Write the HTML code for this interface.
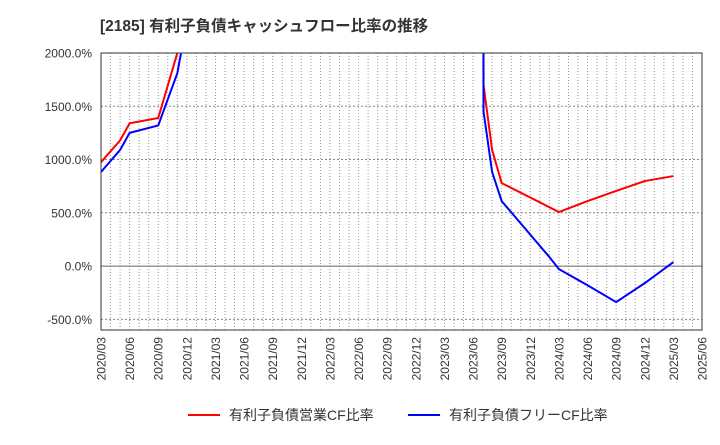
<!DOCTYPE html>
<html><head><meta charset="utf-8"><style>
body{margin:0;background:#fff;font-family:"Liberation Sans","Noto Sans CJK JP",sans-serif;}
</style></head><body>
<svg width="720" height="440" xmlns="http://www.w3.org/2000/svg" style="font-family:'Liberation Sans','Noto Sans CJK JP',sans-serif">
<text x="100" y="31" font-size="15.5" font-weight="bold" fill="#333">[2185]  有利子負債キャッシュフロー比率の推移</text>
<g id="grid"></g>
<g id="axes"></g>
<defs><clipPath id="pc"><rect x="101" y="53" width="601" height="277"/></clipPath></defs>
<g id="series" clip-path="url(#pc)"></g>
<rect x="101" y="53" width="601" height="277" fill="none" stroke="#333" stroke-width="1"/>
<g>
<line x1="188" y1="415" x2="220" y2="415" stroke="#f00" stroke-width="2"/>
<text x="229" y="420" font-size="14" fill="#333">有利子負債営業CF比率</text>
<line x1="408" y1="415" x2="440" y2="415" stroke="#00f" stroke-width="2"/>
<text x="449" y="420" font-size="14" fill="#333">有利子負債フリーCF比率</text>
</g>
</svg>
<script>
const yTicks=[-500,0,500,1000,1500,2000];
const xTickLabels=["2020/03","2020/06","2020/09","2020/12","2021/03","2021/06","2021/09","2021/12","2022/03","2022/06","2022/09","2022/12","2023/03","2023/06","2023/09","2023/12","2024/03","2024/06","2024/09","2024/12","2025/03","2025/06"];
// month index from 2020/03
const redMonths=[0,2,3,6,8,9,12,39,39.6,40.1,41,42,48,51,54,57,60];
const redValues=[975,1180,1340,1390,2000,2600,4000,4000,50000,1700,1089,779,507,610,705,798,845];
const blueMonths=[0,2,3,6,8,9,12,39,39.6,40.1,41,42,47,48,51,54,57,60];
const blueValues=[883,1090,1250,1320,1810,2300,4000,4000,50000,1450,883,610,85,-28,-180,-338,-160,38];
const X0=101,X1=702,Y0=330,Y1=53,MONTHS=63,VMIN=-600,VMAX=2000;
const sx=m=>X0+(X1-X0)*m/MONTHS;
const sy=v=>Y0-(Y0-Y1)*(v-VMIN)/(VMAX-VMIN);
const NS="http://www.w3.org/2000/svg";
const grid=document.getElementById('grid'),axes=document.getElementById('axes'),ser=document.getElementById('series');
for(let m=1;m<MONTHS;m++){
 const l=document.createElementNS(NS,'line');
 
 
 l.setAttribute('x1',sx(m));l.setAttribute('x2',sx(m));l.setAttribute('y1',Y1);l.setAttribute('y2',Y0);
 l.setAttribute('stroke','#999');l.setAttribute('stroke-dasharray','1,2');grid.appendChild(l);
}
yTicks.forEach(v=>{
 const l=document.createElementNS(NS,'line');
 
 
 l.setAttribute('x1',X0);l.setAttribute('x2',X1);l.setAttribute('y1',sy(v));l.setAttribute('y2',sy(v));
 l.setAttribute('stroke',v===0?'#666':'#888');l.setAttribute('stroke-dasharray',v===0?'':'2,2');grid.appendChild(l);
 const t=document.createElementNS(NS,'text');
 
 
 t.setAttribute('x',92);t.setAttribute('y',sy(v)+4.5);t.setAttribute('text-anchor','end');t.setAttribute('font-size','12');t.setAttribute('fill','#333');
 t.textContent=v.toFixed(1)+'%';axes.appendChild(t);
});
xTickLabels.forEach((s,i)=>{
 const x=sx(i*3);
 const t=document.createElementNS(NS,'text');
 
 
 t.setAttribute('transform','translate('+(x+4.5)+',337) rotate(-90)');t.setAttribute('text-anchor','end');t.setAttribute('font-size','12');t.setAttribute('fill','#333');
 t.textContent=s;axes.appendChild(t);
});
function line(ms,vs,color,name){
 const p=document.createElementNS(NS,'polyline');
 
 
 p.setAttribute('points',ms.map((m,i)=>sx(m)+','+sy(vs[i])).join(' '));
 p.setAttribute('fill','none');p.setAttribute('stroke',color);p.setAttribute('stroke-width','2');ser.appendChild(p);
}
line(redMonths,redValues,'#f00','operating-cf-ratio-line');
line(blueMonths,blueValues,'#00f','free-cf-ratio-line');
</script>
</body></html>
